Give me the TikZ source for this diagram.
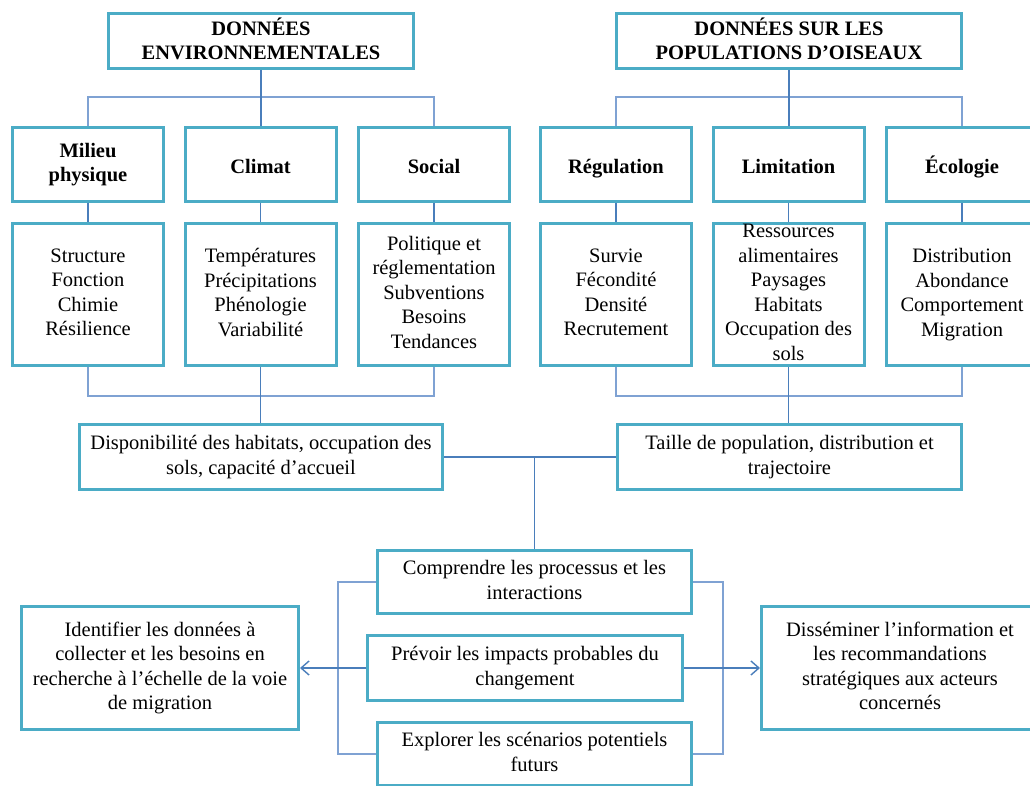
\documentclass[tikz,border=0pt]{standalone}
\usepackage{fontspec}
\setmainfont{Liberation Serif}
\usetikzlibrary{arrows.meta,positioning}
\definecolor{boxcol}{HTML}{4BACC6}
\definecolor{linkcol}{HTML}{4A7EBB}
\definecolor{bracecol}{HTML}{7FA2D3}
\newcommand\topstrut[1]{\rule{0pt}{#1}}
\newcommand\botstrut{\rule[-4.4pt]{0pt}{4.4pt}}

\begin{document}
\begin{tikzpicture}[x=1pt,y=-1pt,node distance=19pt,
	every node/.style	={font=\fontsize{20.5}{24.5}\selectfont},
	cell/.style	={rectangle,draw=boxcol,line width=3pt,inner sep=0pt,align=center,
		execute at begin node={\topstrut{#1}},execute at end node=\botstrut},
	cell/.default	=20pt,
	datahead/.style	={cell=19pt,font=\fontsize{20.5}{24.5}\selectfont\bfseries,minimum height=55pt},
	category/.style	={cell=22pt,font=\fontsize{20.5}{24.5}\selectfont\bfseries,minimum width=151pt,minimum height=74pt},
	items/.style	={cell,minimum width=151pt,minimum height=142pt},
	synth/.style	={cell,minimum height=65pt},
	aim/.style	={cell,minimum height=63pt},
	action/.style	={cell,minimum width=277pt,minimum height=123pt},
	paths/.style	={draw=linkcol,line width=1.7pt},
	brace/.style	={draw=bracecol,line width=1.2pt},
	tip/.style	={-{Straight Barb[length=8pt,width=14pt,line width=1.4pt]}},
	]
	\useasboundingbox (0,0) rectangle (1030,786);
	
	\node [datahead,minimum width=305pt] (ENV) at (261,41) {DONNÉES\\ENVIRONNEMENTALES};
	\node [datahead,minimum width=345pt] (POP) at (789,41) {DONNÉES SUR LES\\POPULATIONS D’OISEAUX};
	
	\node [category] (MP) at (88,164.5) {Milieu\\physique};
	\node [category] (CL) at (260.5,164.5) {Climat};
	\node [category] (SO) at (434,164.5) {Social};
	\node [category] (RG) at (616,164.5) {Régulation};
	\node [category] (LM) at (788.5,164.5) {Limitation};
	\node [category] (EC) at (962,164.5) {Écologie};
	
	\node [items] (dMP) [below=of MP] {Structure\\Fonction\\Chimie\\Résilience};
	\node [items] (dCL) [below=of CL] {Températures\\Précipitations\\Phénologie\\Variabilité};
	\node [items] (dSO) [below=of SO] {Politique et\\réglementation\\Subventions\\Besoins\\Tendances};
	\node [items] (dRG) [below=of RG] {Survie\\Fécondité\\Densité\\Recrutement};
	\node [items] (dLM) [below=of LM] {Ressources\\alimentaires\\Paysages\\Habitats\\Occupation des\\sols};
	\node [items] (dEC) [below=of EC] {Distribution\\Abondance\\Comportement\\Migration};
	
	\node [synth,minimum width=363pt] (DH) at (261,457) {Disponibilité des habitats, occupation des\\sols, capacité d’accueil};
	\node [synth,minimum width=344pt] (TP) at (789.5,457) {Taille de population, distribution et\\trajectoire};
	
	\node [aim,minimum width=314pt] (CP) at (534.5,582) {Comprendre les processus et les\\interactions};
	\node [aim,minimum width=315pt,minimum height=65pt] (PI) at (525,668) {Prévoir les impacts probables du\\changement};
	\node [aim,minimum width=314pt] (EX) at (534.5,754) {Explorer les scénarios potentiels\\futurs};
	
	\node [action] (ID) at (160,668) {Identifier les données à\\collecter et les besoins en\\recherche à l’échelle de la voie\\de migration};
	\node [action] (DI) at (900,668) {Disséminer l’information et\\les recommandations\\stratégiques aux acteurs\\concernés};
	
	\draw [brace] (MP.north) -- ++(0,-29) -| (SO.north);
	\draw [brace] (RG.north) -- ++(0,-29) -| (EC.north);
	\draw [paths] (ENV.south) -- (ENV.south |- CL.north);
	\draw [paths] (POP.south) -- (POP.south |- LM.north);
	
	\foreach \c in {MP, CL, SO, RG, LM, EC}
		\draw [paths] (\c.south) -- (d\c.north);
	
	\draw [brace] (dMP.south) -- ++(0,29) -| (dSO.south);
	\draw [brace] (dRG.south) -- ++(0,29) -| (dEC.south);
	\draw [paths] (dCL.south) -- (dCL.south |- DH.north);
	\draw [paths] (dLM.south) -- (dLM.south |- TP.north);
	
	\draw [paths] (DH.east) -- (TP.west);
	\draw [paths] (DH.east -| CP.north) -- (CP.north);
	
	\draw [brace] (CP.west) -- ++(-38,0) |- (EX.west);
	\draw [brace] (CP.east) -- ++(30,0) |- (EX.east);
	\draw [paths,tip] (PI.west) -- (ID.east);
	\draw [paths,tip] (PI.east) -- (DI.west);
\end{tikzpicture}
\end{document}
